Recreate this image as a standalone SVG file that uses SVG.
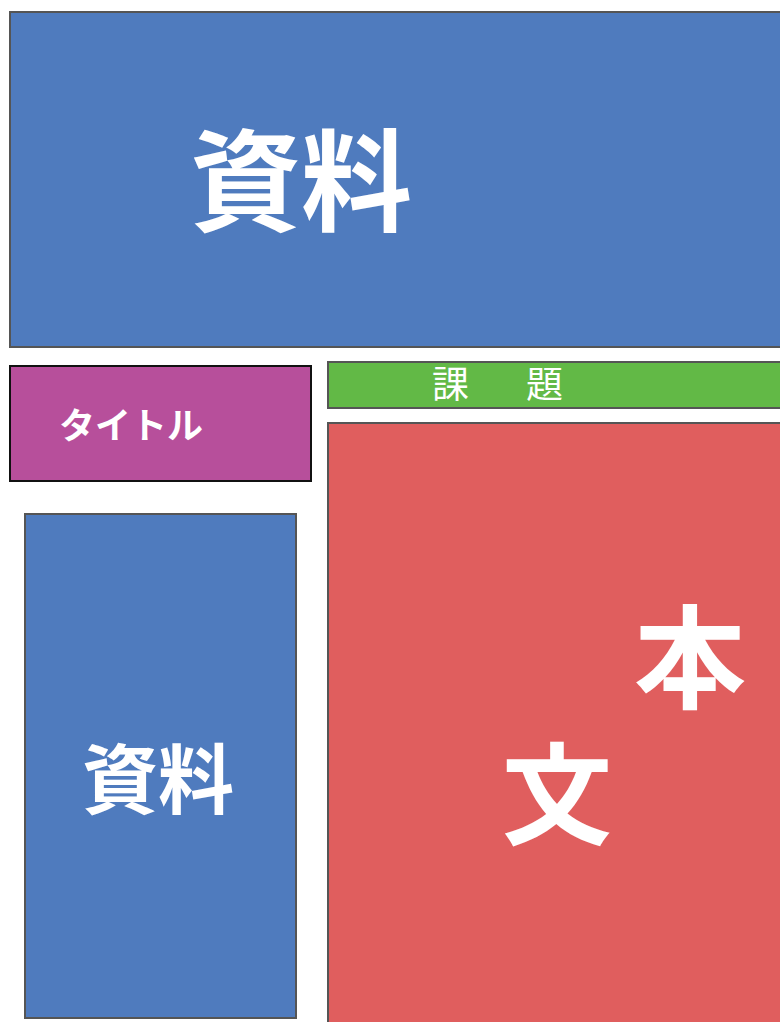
<svg xmlns="http://www.w3.org/2000/svg" width="780" height="1022" viewBox="0 0 780 1022">
<style>
.box{stroke:#555;stroke-width:2}
.blue{fill:#4F7BBE}
.t{fill:#fff;font-family:"Noto Sans CJK JP","Noto Sans CJK SC",sans-serif}
.b{font-weight:bold}
</style>
<rect width="780" height="1022" fill="#fff"/>
<g id="shiryo-top">
<rect class="box blue" x="10" y="12" width="780" height="335"/>
<text class="t b" x="301" y="223" font-size="111" text-anchor="middle">資料</text>
</g>
<g id="title">
<rect x="10" y="366" width="301" height="115" fill="#B74F9B" stroke="#111" stroke-width="2"/>
<text class="t b" x="131" y="439" font-size="36" text-anchor="middle">タイトル</text>
</g>
<g id="kadai">
<rect class="box" x="328" y="362" width="460" height="46" fill="#62B946"/>
<text class="t" x="432" y="398" font-size="37" letter-spacing="10">課　題</text>
</g>
<g id="honbun">
<rect class="box" x="328" y="423" width="460" height="610" fill="#E05E5E"/>
<text class="t b" x="690" y="700" font-size="112" text-anchor="middle">本</text>
<text class="t b" x="557" y="836" font-size="110" text-anchor="middle">文</text>
</g>
<g id="shiryo-left">
<rect class="box blue" x="25" y="514" width="271" height="504"/>
<text class="t b" x="158" y="808" font-size="76" text-anchor="middle">資料</text>
</g>
<g id="connectors"/>
</svg>
